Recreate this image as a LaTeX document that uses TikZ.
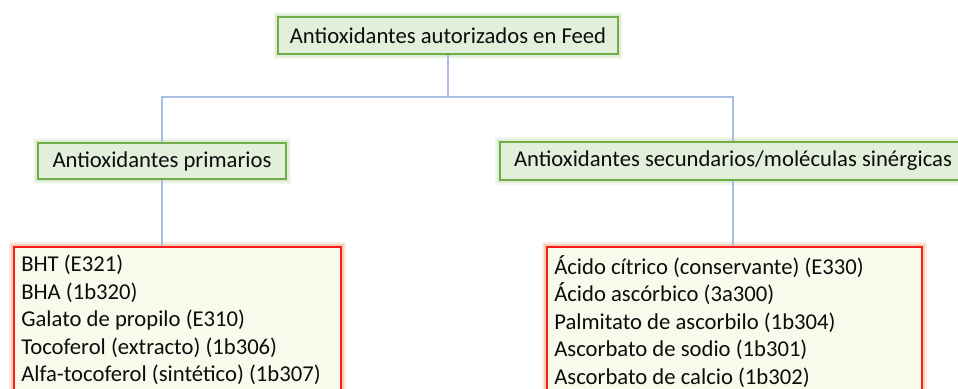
\documentclass[tikz,border=0pt]{standalone}
\usepackage{fontspec}
\setmainfont{Carlito}
\definecolor{gfill}{HTML}{E2EFDA}
\definecolor{gline}{HTML}{70AD47}
\definecolor{rfill}{HTML}{F8FAEC}
\definecolor{rline}{HTML}{FF1A1A}
\definecolor{rglow}{HTML}{F4B183}
\definecolor{conn}{HTML}{A9BEE4}
\begin{document}
\begin{tikzpicture}[x=0.75pt,y=-0.75pt,
  txt/.style={font=\fontsize{17}{20.6}\selectfont, text=black!95},
  greenbox/.style={draw=gline, fill=gfill, line width=1.5pt, inner sep=0pt, txt,
    preaction={draw=gline!70, line width=7pt, draw opacity=0.12},
    preaction={draw=gline!70, line width=4pt, draw opacity=0.25}},
  redbox/.style={draw=rline, fill=rfill, line width=1.3pt, inner sep=0pt,
    preaction={draw=rglow, line width=7pt, draw opacity=0.25},
    preaction={draw=rglow, line width=4pt, draw opacity=0.45}},
  connector/.style={draw=conn, line width=0.9pt}]
\useasboundingbox (0,0) rectangle (958,389);
\clip (0,0) rectangle (958,389);
\coordinate (hub) at (448,97);
\node[greenbox, minimum width=255pt, minimum height=27.75pt] (top) at (448,35.5) {Antioxidantes autorizados en Feed};
\node[greenbox, minimum width=186pt, minimum height=27pt] (midL) at (162,161) {Antioxidantes primarios};
\node[greenbox, minimum width=349.5pt, minimum height=28.5pt] (midR) at (733,161) {Antioxidantes secundarios/moléculas sinérgicas};
\node[redbox, anchor=north west, minimum width=245.25pt, minimum height=130pt] (botL) at (13,246) {};
\node[redbox, anchor=north west, minimum width=281.25pt, minimum height=130pt] (botR) at (546,246) {};
\draw[connector] (top.south) -- (hub);
\draw[connector] (midL.north) |- (hub) -| (midR.north);
\draw[connector] (midL.south) -- (midL.south |- botL.north);
\draw[connector] (midR.south) -- (midR.south |- botR.north);
\node[txt, anchor=north west, align=left, inner sep=0pt] (listL) at (21,255)
  {BHT (E321)\\BHA (1b320)\\Galato de propilo (E310)\\Tocoferol (extracto) (1b306)\\Alfa-tocoferol (sintético) (1b307)};
\node[txt, anchor=north west, align=left, inner sep=0pt] (listR) at (554,255)
  {Ácido cítrico (conservante) (E330)\\Ácido ascórbico (3a300)\\Palmitato de ascorbilo (1b304)\\Ascorbato de sodio (1b301)\\Ascorbato de calcio (1b302)};
\end{tikzpicture}
\end{document}
